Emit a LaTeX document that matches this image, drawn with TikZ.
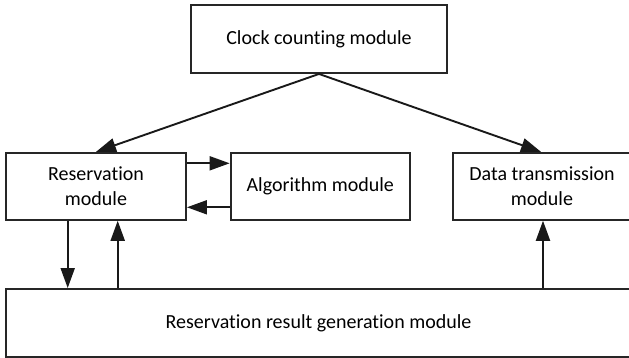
\documentclass[tikz,border=0pt]{standalone}
\usepackage{fontspec}
\setmainfont{Carlito}[RawFeature={-liga;-calt;-dlig;-clig}]
\usetikzlibrary{arrows.meta}
\begin{document}
\begin{tikzpicture}[x=1pt,y=-1pt,
  box/.style={draw=black!85, line width=1.9pt, inner sep=0pt, align=center,
    font=\fontsize{20}{25}\selectfont},
  arr/.style={draw=black!90, line width=1.9pt, -{Triangle[length=20pt,width=14pt]}}]
\useasboundingbox (0,0) rectangle (629,358);
\node[box, minimum width=256pt, minimum height=68pt] (clock) at (319,39) {Clock counting module};
\node[box, minimum width=180pt, minimum height=67pt] (res) at (96,186.3) {Reservation\\module};
\node[box, minimum width=179.4pt, minimum height=67pt] (alg) at (320.3,186.3) {Algorithm module};
\node[box, minimum width=178pt, minimum height=67pt] (data) at (542,186.3) {Data transmission\\module};
\node[box, minimum width=625pt, minimum height=68pt] (result) at (318.5,323) {Reservation result generation module};
\draw[arr] (clock.south) -- (res.north);
\draw[arr] (clock.south) -- ([xshift=-1pt]data.north);
\draw[arr] ([yshift=23pt]res.east) -- ([yshift=23pt]res.east -| alg.west);
\draw[arr] ([yshift=-21pt]alg.west) -- ([yshift=-21pt]alg.west -| res.east);
\draw[arr] ([xshift=-28.3pt]res.south) -- ([xshift=-28.3pt]res.south |- result.north);
\draw[arr] ([xshift=21.7pt]res.south |- result.north) -- ([xshift=21.7pt]res.south);
\draw[arr] ([xshift=1pt]data.south |- result.north) -- ([xshift=1pt]data.south);
\end{tikzpicture}
\end{document}
